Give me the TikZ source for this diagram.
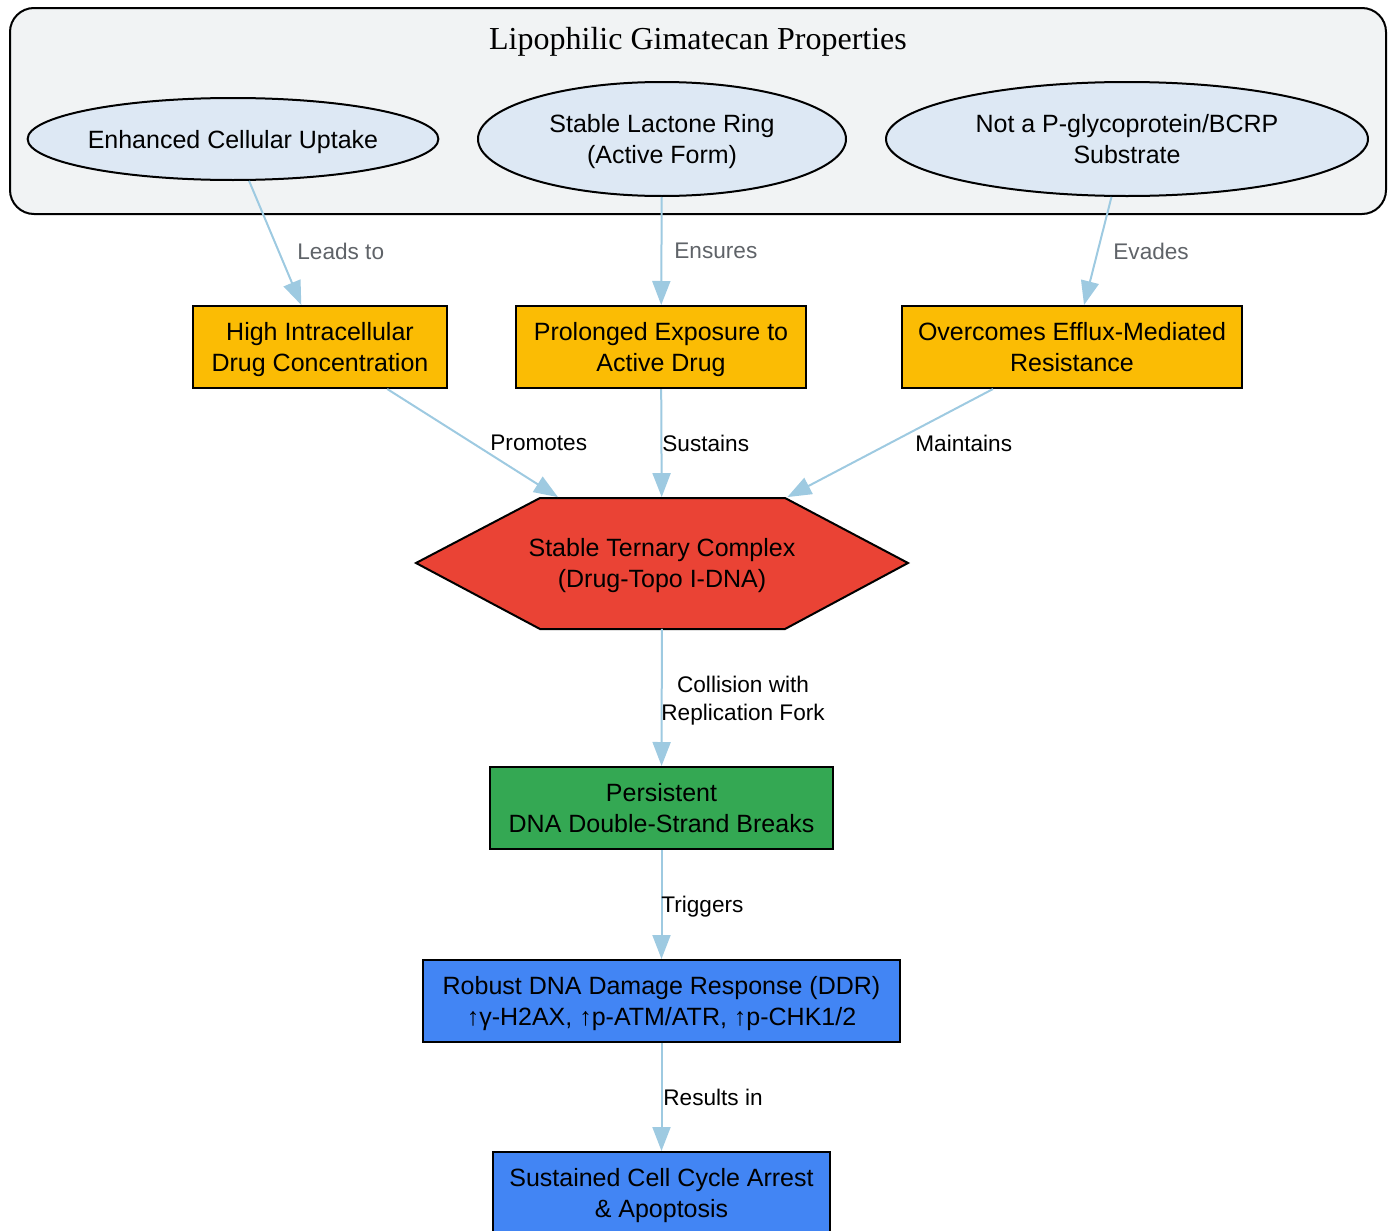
\documentclass[tikz,border=0pt]{standalone}
\usepackage{fontspec}
\setmainfont{Liberation Sans}
\newfontfamily\clusterfont{Liberation Serif}
\usepackage{tikz}
\usetikzlibrary{arrows.meta,shapes.geometric}
\definecolor{clustergray}{HTML}{F1F3F4}
\definecolor{propblue}{HTML}{DDE8F4}
\definecolor{gorange}{HTML}{FBBC04}
\definecolor{gred}{HTML}{EA4335}
\definecolor{ggreen}{HTML}{34A853}
\definecolor{gblue}{HTML}{4285F4}
\definecolor{edgeblue}{HTML}{9ECAE1}
\definecolor{lblgray}{HTML}{5F6368}

\begin{document}
\begin{tikzpicture}[x=0.5pt, y=-0.5pt,
	prop/.style={ellipse, draw=black, line width=1pt, fill=propblue, inner sep=0pt, align=center, text depth=0pt, font=\fontsize{12.5}{15.5}\selectfont},
	stepbox/.style={rectangle, draw=black, line width=1pt, inner sep=0pt, minimum height=41pt, align=center, text depth=0pt, font=\fontsize{12.5}{15.5}\selectfont},
	flow/.style={draw=edgeblue, line width=1pt, -{Triangle[length=12pt,width=9pt]}},
	lbl/.style={anchor=west, inner sep=0pt, align=center, text depth=0pt, font=\fontsize{11.3}{14}\selectfont},
	toplbl/.style={lbl, text=lblgray}]
			%%%%% START %%%%%
			\useasboundingbox (0, 0) rectangle (1393, 1231);
			
			% properties cluster
			\draw[line width=1pt, fill=clustergray, rounded corners=12pt] (10, 8) rectangle (1386, 214);
			\node[inner sep=0pt, text depth=0pt, font=\clusterfont\fontsize{16}{19}\selectfont] (title) at (698, 38) {Lipophilic Gimatecan Properties};
			
			\node[prop, minimum width=203pt, minimum height=41pt] (uptake) at (233, 139) {Enhanced Cellular Uptake};
			\node[prop, minimum width=184pt, minimum height=57pt] (lactone) at (662, 139) {Stable Lactone Ring\\(Active Form)};
			\node[prop, minimum width=241pt, minimum height=57pt] (pgp) at (1127, 139) {Not a P-glycoprotein/BCRP\\Substrate};
			
			% consequences
			\node[stepbox, fill=gorange, minimum width=127pt] (hic) at (320, 347) {High Intracellular\\Drug Concentration};
			\node[stepbox, fill=gorange, minimum width=145pt] (pexp) at (661, 347) {Prolonged Exposure to\\Active Drug};
			\node[stepbox, fill=gorange, minimum width=170pt] (ovr) at (1072, 347) {Overcomes Efflux-Mediated\\Resistance};
			
			% ternary complex
			\draw[line width=1pt, fill=gred] (416, 563) -- (540, 498) -- (785, 498) -- (908, 563) -- (785, 629) -- (540, 629) -- cycle;
			\node[inner sep=0pt, minimum width=246pt, minimum height=65.5pt, align=center, text depth=0pt, font=\fontsize{12.5}{15.5}\selectfont] (cplx) at (662, 563) {Stable Ternary Complex\\(Drug-Topo I-DNA)};
			
			\node[stepbox, fill=ggreen, minimum width=171.5pt] (dsb) at (661.5, 808) {Persistent\\DNA Double-Strand Breaks};
			\node[stepbox, fill=gblue, minimum width=238.5pt] (ddr) at (661.5, 1001) {Robust DNA Damage Response (DDR)\\↑γ-H2AX, ↑p-ATM/ATR, ↑p-CHK1/2};
			\node[stepbox, fill=gblue, minimum width=168.5pt] (arrest) at (661.5, 1193) {Sustained Cell Cycle Arrest\\\& Apoptosis};
			
			% connectors
			\draw[flow] (uptake.-69) -- (hic.114);
			\draw[flow] (lactone) -- (pexp);
			\draw[flow] (pgp.255) -- (ovr.74);
			\draw[flow] (hic.-32) -- (cplx);
			\draw[flow] (pexp) -- (cplx);
			\draw[flow] (ovr.208) -- (cplx);
			\draw[flow] (cplx) -- (dsb);
			\draw[flow] (dsb) -- (ddr);
			\draw[flow] (ddr) -- (arrest);
			
			% labels
			\node[toplbl] (l-leads) at (297, 251) {Leads to};
			\node[toplbl] (l-ensures) at (674, 251) {Ensures};
			\node[toplbl] (l-evades) at (1113, 251) {Evades};
			\node[lbl] (l-promotes) at (490, 443) {Promotes};
			\node[lbl] (l-sustains) at (662, 443) {Sustains};
			\node[lbl] (l-maintains) at (915, 443) {Maintains};
			\node[lbl] (l-collision) at (661, 698) {Collision with\\Replication Fork};
			\node[lbl] (l-triggers) at (661, 904) {Triggers};
			\node[lbl] (l-results) at (663, 1097) {Results in};
			%%%%% END %%%%%
\end{tikzpicture}
\end{document}
